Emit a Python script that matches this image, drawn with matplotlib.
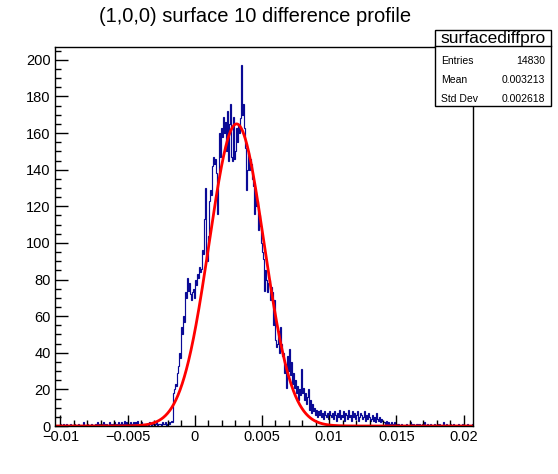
import numpy as np
import matplotlib.pyplot as plt
from matplotlib.patches import Rectangle
from matplotlib.ticker import MultipleLocator, FuncFormatter

plt.rcParams['font.family'] = ['Liberation Sans', 'DejaVu Sans']

# histogram range and bin counts (left to right)
x_min, x_max = -0.0104, 0.0207
left_tail = [0, 0, 0, 0, 0, 1, 0, 0, 1, 0,
             0, 1, 0, 0, 0, 1, 0, 0, 0, 1,
             0, 0, 0, 1, 0, 0, 0, 0, 2, 0,
             0, 0, 1, 0, 0, 0, 1, 0, 0, 0,
             1, 0, 2, 0, 1, 0, 0, 1, 2, 1,
             0, 1, 0, 0, 2, 1, 0, 1, 1, 2,
             1, 0, 1, 2, 1, 0, 2, 1, 1, 3,
             1, 2, 0, 1, 1, 2, 1, 1, 2, 1,
             2, 1, 3, 1, 0, 1, 2, 1, 0, 1,
             0, 1, 1, 0, 2, 1, 0, 1, 1, 0,
             1, 2, 0, 1, 1]
foot_left = [1, 0, 2, 1, 1, 2, 0, 1, 2, 1, 2, 3, 2]
rise = [18, 20, 23, 22, 29, 33, 40, 37, 54, 50, 60, 57, 73, 70, 81, 74, 78, 72,
        69, 73, 75, 70, 80, 77, 83, 81, 87, 84, 86, 96, 94, 113, 130, 92, 90,
        104, 123, 129, 126, 142, 147, 143, 146]
peak = [138, 116, 135, 160, 147, 163, 158, 169, 160, 166, 150, 172, 145, 165,
        176, 147, 145, 169, 146, 150, 163, 155, 165, 160, 168, 197, 170, 176,
        163, 152, 129, 140, 149, 140, 146, 143, 135, 131, 116, 128, 120, 123,
        107, 115, 109, 100, 95, 91, 74, 85, 80, 73, 78, 80, 69, 76, 73]
fall = [55, 69, 47, 43, 45, 52, 40, 54, 45, 38,
        40, 29, 34, 21, 38, 30, 42, 28, 35, 23,
        29, 21, 25, 18, 22, 14, 20, 17, 31, 18,
        21, 14, 18, 12, 16, 20, 9, 14, 7, 12,
        8, 10, 6, 9, 5, 8, 6, 9, 5, 7,
        4, 8, 6, 5, 7, 4, 8, 6]
shoulder = [5, 7, 4, 8, 6, 3, 7, 5, 9, 4, 6, 5, 8, 3, 7, 6, 4, 9, 5, 6,
            3, 8, 5, 7, 4, 6, 8, 3, 5, 7, 6, 4, 5, 8, 3, 6, 4, 7, 5, 3]
foot_right = [4, 6, 3, 5, 2, 7, 4, 3, 5, 2, 4, 3, 2,
              2, 1, 3, 1, 2, 0, 1, 2, 1, 0, 2, 1, 0, 1]
right_tail = [1, 0, 0, 1, 0, 0, 0, 0, 1, 0,
              0, 0, 2, 1, 0, 1, 0, 0, 1, 1,
              0, 1, 0, 0, 1, 0, 2, 0, 0, 1,
              0, 0, 1, 0, 0, 0, 1, 0, 0, 1,
              0, 1, 0, 0, 0, 2, 0, 0, 1, 0,
              0, 0, 1, 0, 0, 1, 0, 0, 0, 0,
              1, 0, 0, 0, 1, 0, 0, 0, 0, 1,
              0, 0, 0, 0, 1]

counts = np.array(left_tail + foot_left + rise + peak + fall + shoulder
                  + foot_right + right_tail)
edges = np.linspace(x_min, x_max, len(counts) + 1)

# gaussian fit parameters
fit_const = 165
fit_mean = 0.00311
fit_sigma = 0.00204

# stats box
stat_name = "surfacediffpro"
stat_labels = ["Entries", "Mean", "Std Dev"]
stat_values = ["14830", "0.003213", "0.002618"]

W, H = 558, 474
fig = plt.figure(figsize=(W / 100, H / 100), dpi=100)
ax = fig.add_axes([55 / W, 1 - 426 / H, 418 / W, 379 / H])

ax.stairs(counts, edges, color='#0a0a96', lw=0.85, baseline=0)
xf = np.linspace(x_min, x_max, 1000)
ax.plot(xf, fit_const * np.exp(-0.5 * ((xf - fit_mean) / fit_sigma) ** 2),
        color='red', lw=2)

ax.set_xlim(x_min, x_max)
ax.set_ylim(0, 207)
ax.xaxis.set_major_locator(MultipleLocator(0.005))
ax.xaxis.set_minor_locator(MultipleLocator(0.001))
ax.xaxis.set_major_formatter(FuncFormatter(
    lambda v, p: ("%g" % round(v, 4)).replace("-", "\u2212")))
ax.yaxis.set_major_locator(MultipleLocator(20))
ax.yaxis.set_minor_locator(MultipleLocator(5))
ax.tick_params(which='both', direction='in', top=False, right=False,
               labelsize=10.5, width=1)
ax.tick_params(axis='x', which='major', length=8, pad=3)
ax.tick_params(axis='x', which='minor', length=4)
ax.tick_params(axis='y', which='major', length=9, pad=3)
ax.tick_params(axis='y', which='minor', length=4.5)
for s in ax.spines.values():
    s.set_linewidth(1)

fig.text(255 / W, 1 - 17 / H, "(1,0,0) surface 10 difference profile",
         ha='center', va='center', fontsize=14.5)

# stats box drawn in figure pixels
bx0, bx1, by0, by1 = 435, 551, 30, 106
fig.patches.append(Rectangle((bx0 / W, 1 - by1 / H), (bx1 - bx0) / W,
                             (by1 - by0) / H, transform=fig.transFigure,
                             facecolor='white', edgecolor='black', lw=1,
                             zorder=5))
fig.lines.append(plt.Line2D([bx0 / W, bx1 / W], [1 - 46 / H, 1 - 46 / H],
                            transform=fig.transFigure, color='black', lw=1,
                            zorder=6))
fig.text((bx0 + bx1) / 2 / W, 1 - 38 / H, stat_name, ha='center',
         va='center', fontsize=12.5, zorder=7)
for i, (lab, val) in enumerate(zip(stat_labels, stat_values)):
    yy = 1 - (61 + i * 19) / H
    fig.text(441 / W, yy, lab, ha='left', va='center', fontsize=7.5, zorder=7)
    fig.text(545 / W, yy, val, ha='right', va='center', fontsize=7.5, zorder=7)

fig.savefig('out.png', dpi=100)
